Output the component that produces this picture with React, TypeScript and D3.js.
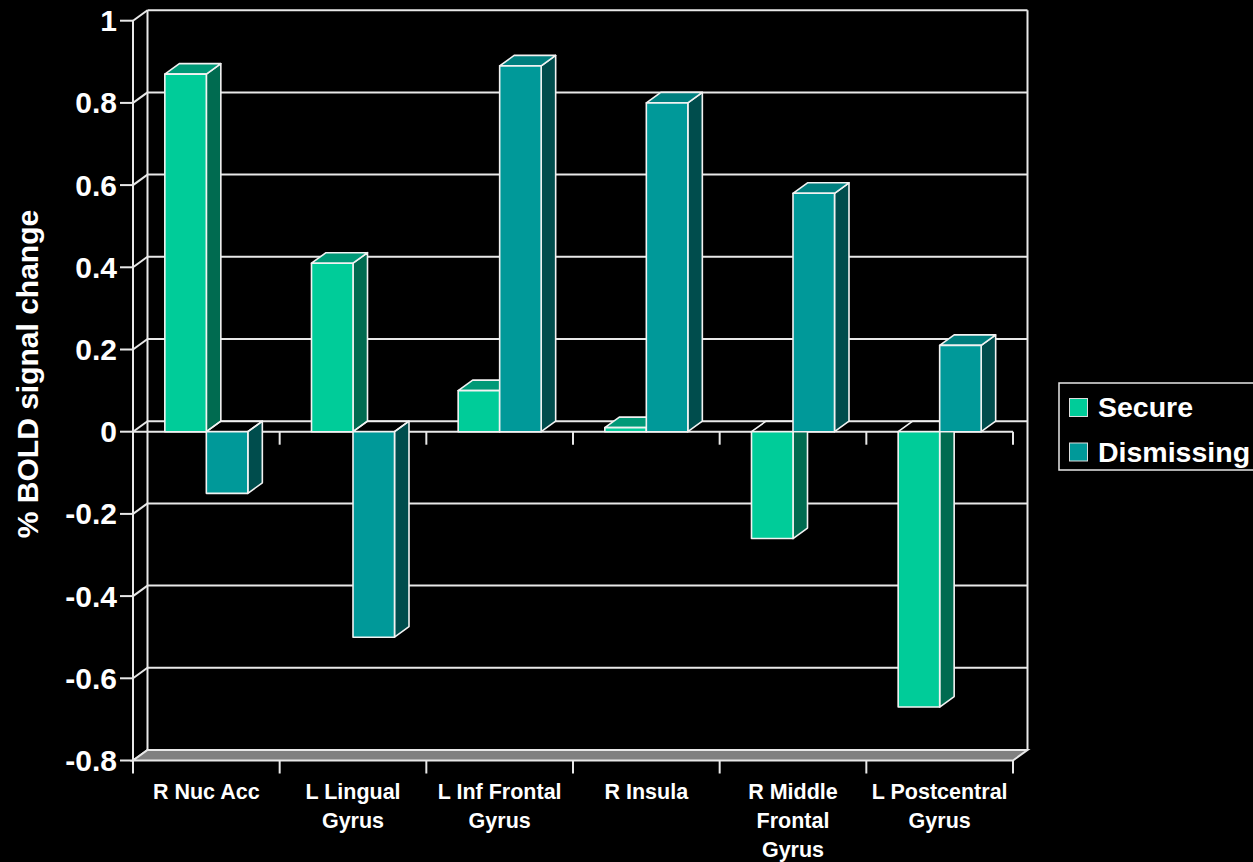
import React from "react";
import * as d3 from "d3";

const categories: string[][] = [
  ["R Nuc Acc"],
  ["L Lingual", "Gyrus"],
  ["L Inf Frontal", "Gyrus"],
  ["R Insula"],
  ["R Middle", "Frontal", "Gyrus"],
  ["L Postcentral", "Gyrus"],
];
const seriesNames = ["Secure", "Dismissing"];
const secureValues = [0.87, 0.41, 0.1, 0.01, -0.26, -0.67];
const dismissingValues = [-0.15, -0.5, 0.89, 0.8, 0.58, 0.21];
const yTicks = [1, 0.8, 0.6, 0.4, 0.2, 0, -0.2, -0.4, -0.6, -0.8];
const yTickLabels = ["1", "0.8", "0.6", "0.4", "0.2", "0", "-0.2", "-0.4", "-0.6", "-0.8"];

const W = 1253;
const H = 862;
const DX = 14.5;
const DY = -10.5;
const FONT = "'Liberation Sans', Arial, sans-serif";
const GRID = "#e8e8e8";

const colors = [
  { front: "#00CC99", top: "#009977", side: "#006B50" },
  { front: "#009999", top: "#007F7F", side: "#004D4D" },
];

export default function App() {
  const catKeys = categories.map((c) => c.join(" "));
  const y = d3.scaleLinear().domain([-0.8, 1]).range([760.5, 20.7]);
  const x = d3.scaleBand().domain(catKeys).range([133, 1013]).paddingInner(0).paddingOuter(0);
  const x1 = d3
    .scaleBand()
    .domain(seriesNames)
    .range([0, x.bandwidth()])
    .paddingInner(0)
    .paddingOuter(0.767);
  const left = 133;
  const right = 1013;
  const y0 = y(0);
  const yMin = y(-0.8);
  const yMax = y(1);
  const boundaries = d3.range(categories.length + 1).map((i) => left + i * x.step());

  const seriesData = [secureValues, dismissingValues];

  const pts = (arr: number[][]) => arr.map((p) => p.join(",")).join(" ");

  const bars: React.ReactNode[] = [];
  catKeys.forEach((ck, ci) => {
    seriesNames.forEach((sn, si) => {
      const v = seriesData[si][ci];
      const xa = (x(ck) as number) + (x1(sn) as number);
      const xb = xa + x1.bandwidth();
      const yv = y(v);
      const c = colors[si];
      const yTop = Math.min(yv, y0);
      const yBot = Math.max(yv, y0);
      bars.push(
        <g key={ck + sn} stroke="#f2f2f2" strokeWidth={1.6} strokeLinejoin="round">
          <polygon
            points={pts([
              [xb, yTop],
              [xb + DX, yTop + DY],
              [xb + DX, yBot + DY],
              [xb, yBot],
            ])}
            fill={c.side}
          />
          <polygon
            points={pts([
              [xa, yTop],
              [xb, yTop],
              [xb + DX, yTop + DY],
              [xa + DX, yTop + DY],
            ])}
            fill={v >= 0 ? c.top : "none"}
          />
          <rect x={xa} y={yTop} width={xb - xa} height={yBot - yTop} fill={c.front} />
        </g>
      );
    });
  });

  return (
    <svg
      width={W}
      height={H}
      style={{ position: "absolute", left: 0, top: 0, background: "#000" }}
      fontFamily={FONT}
      fontWeight="bold"
    >
      <rect x={0} y={0} width={W} height={H} fill="#000" />
      {yTicks.map((t) => (
        <g key={"g" + t} stroke={GRID} strokeWidth={2}>
          <line x1={left + DX} x2={right + DX} y1={y(t) + DY} y2={y(t) + DY} />
          <line x1={left} x2={left + DX} y1={y(t)} y2={y(t) + DY} />
          <line x1={left - 13} x2={left} y1={y(t)} y2={y(t)} />
        </g>
      ))}
      <line x1={left + DX} x2={left + DX} y1={yMax + DY} y2={yMin + DY} stroke={GRID} strokeWidth={2} />
      <line x1={right + DX} x2={right + DX} y1={yMax + DY} y2={yMin + DY} stroke={GRID} strokeWidth={2} />
      <line x1={left} x2={left} y1={yMax} y2={yMin} stroke={GRID} strokeWidth={2} />
      <polygon
        points={pts([
          [left, yMin],
          [right, yMin],
          [right + DX, yMin + DY],
          [left + DX, yMin + DY],
        ])}
        fill="#808080"
        stroke={GRID}
        strokeWidth={2}
      />
      {boundaries.map((b, i) => (
        <line key={"bt" + i} x1={b} x2={b} y1={yMin} y2={yMin + 13} stroke={GRID} strokeWidth={2} />
      ))}
      <line x1={left} x2={right} y1={y0} y2={y0} stroke={GRID} strokeWidth={2} />
      {boundaries.slice(1).map((b, i) => (
        <line key={"zt" + i} x1={b} x2={b} y1={y0} y2={y0 + 13} stroke={GRID} strokeWidth={2} />
      ))}
      {bars}
      {yTicks.map((t, i) => (
        <text key={"yl" + t} x={117} y={y(t) + 10.5} textAnchor="end" fill="#fff" fontSize={30}>
          {yTickLabels[i]}
        </text>
      ))}
      <text
        transform="translate(38,374) rotate(-90)"
        textAnchor="middle"
        fill="#fff"
        fontSize={30}
      >
        % BOLD signal change
      </text>
      {categories.map((lines, ci) => (
        <text key={"cl" + ci} textAnchor="middle" fill="#fff" fontSize={21.5}>
          {lines.map((ln, li) => (
            <tspan key={li} x={(x(catKeys[ci]) as number) + x.bandwidth() / 2} y={799 + li * 29}>
              {ln}
            </tspan>
          ))}
        </text>
      ))}
      <rect x={1059} y={383} width={205} height={87} fill="#000" stroke={GRID} strokeWidth={1.5} />
      {seriesNames.map((s, i) => (
        <g key={"lg" + s}>
          <rect x={1069.5} y={398.5 + i * 44.5} width={18} height={18} fill={colors[i].front} stroke="#ddd" strokeWidth={1} />
          <text x={1098} y={417 + i * 44.5} fill="#fff" fontSize={28.5}>
            {s}
          </text>
        </g>
      ))}
    </svg>
  );
}
